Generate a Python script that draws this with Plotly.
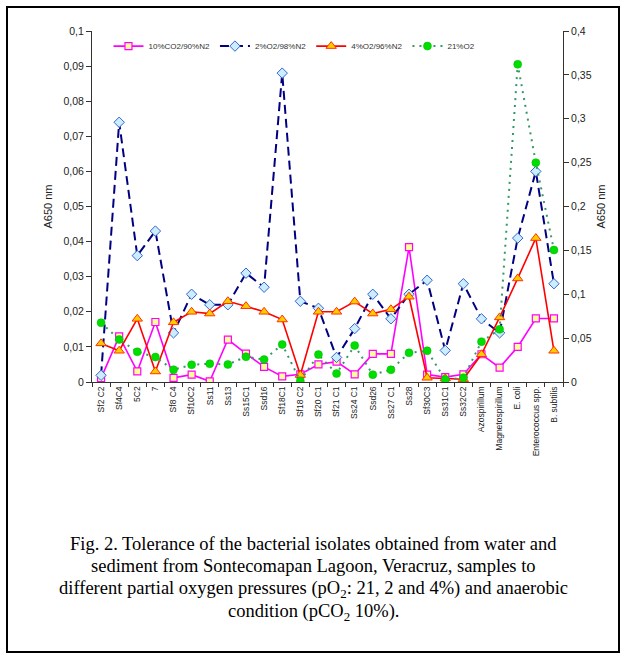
import plotly.graph_objects as go

categories = ["Sf2 C2", "Sf4C4", "5C2", "7", "Sf8 C4", "Sf10C2", "Ss11", "Ss13",
              "Ss15C1", "Ssd16", "Sf18C1", "Sf18 C2", "Sf20 C1", "Sf21 C1", "Ss24 C1",
              "Ssd26", "Ss27 C1", "Ss28", "Sf30C3", "Ss31C1", "Ss32C2", "Azospirillum",
              "Magnetospirillum", "E. coli", "Enterococcus spp.", "B. subtilis"]

co2_10 = [0.0011, 0.0130, 0.0030, 0.0171, 0.0012, 0.0021, 0.0002, 0.0121, 0.0081, 0.0043,
          0.0016, 0.0022, 0.0050, 0.0058, 0.0022, 0.0080, 0.0080, 0.0384, 0.0021, 0.0014,
          0.0022, 0.0079, 0.0041, 0.0100, 0.0181, 0.0181]

o2_2 = [0.0019, 0.0740, 0.0360, 0.0430, 0.0140, 0.0250, 0.0220, 0.0220, 0.0310, 0.0270,
        0.0880, 0.0230, 0.0210, 0.0070, 0.0152, 0.0250, 0.0180, 0.0250, 0.0290, 0.0090,
        0.0280, 0.0180, 0.0140, 0.0410, 0.0600, 0.0280]

o2_4 = [0.0110, 0.0089, 0.0180, 0.0030, 0.0170, 0.0200, 0.0195, 0.0230, 0.0216, 0.0200,
        0.0178, 0.0020, 0.0200, 0.0200, 0.0229, 0.0195, 0.0207, 0.0243, 0.0012, 0.0010,
        0.0008, 0.0079, 0.0184, 0.0295, 0.0410, 0.0089]

# 21% O2 read on the right axis (0 - 0.4)
o2_21 = [0.0676, 0.0484, 0.0344, 0.0284, 0.0140, 0.0196, 0.0208, 0.0200, 0.0288, 0.0256,
         0.0428, 0.0012, 0.0312, 0.0096, 0.0416, 0.0084, 0.0140, 0.0332, 0.0356, 0.0028,
         0.0048, 0.0460, 0.0600, 0.3620, 0.2500, 0.1504]

caption_lines = [
    "Fig. 2. Tolerance of the bacterial isolates obtained from water and",
    "sediment from Sontecomapan Lagoon, Veracruz, samples to",
    "different partial oxygen pressures (pO<sub>2</sub>: 21, 2 and 4%) and anaerobic",
    "condition (pCO<sub>2</sub> 10%).",
]

FONT = "Liberation Sans"

fig = go.Figure()
fig.add_trace(go.Scatter(
    x=categories, y=co2_10, name="10%CO2/90%N2", mode="lines+markers",
    line=dict(color="#FF00FF", width=1.6),
    marker=dict(symbol="square", size=7, color="#FFFF99", line=dict(color="#FF00FF", width=1.2))))
fig.add_trace(go.Scatter(
    x=categories, y=o2_2, name="2%O2/98%N2", mode="lines+markers",
    line=dict(color="#000080", width=2, dash="9px,5px"),
    marker=dict(symbol="diamond", size=8, color="#CCECFF", line=dict(color="#3366CC", width=1))))
fig.add_trace(go.Scatter(
    x=categories, y=o2_4, name="4%O2/96%N2", mode="lines+markers",
    line=dict(color="#FF0000", width=1.6),
    marker=dict(symbol="triangle-up", size=9, color="#FFCC00", line=dict(color="#FF3300", width=1))))
fig.add_trace(go.Scatter(
    x=categories, y=o2_21, name="21%O2", mode="lines+markers", yaxis="y2",
    line=dict(color="#339966", width=2, dash="2px,5px"),
    marker=dict(symbol="circle", size=8, color="#00DD00", line=dict(color="#00BB00", width=0.5))))

fig.update_layout(
    width=624, height=656,
    margin=dict(l=92, r=61, t=31, b=274),
    paper_bgcolor="white", plot_bgcolor="white",
    separators=",.",
    font=dict(family=FONT, color="#222222"),
    showlegend=True,
    legend=dict(orientation="h", x=0.035, y=0.957, xanchor="left", yanchor="middle",
                font=dict(size=8, family=FONT, color="#333333"),
                bgcolor="rgba(0,0,0,0)", itemwidth=30, tracegroupgap=0),
    xaxis=dict(type="category", range=[-0.5, 25.5], tickangle=-90,
               showline=True, linecolor="#333333", linewidth=1,
               ticks="outside", tickson="boundaries", ticklen=4, tickcolor="#333333",
               tickfont=dict(size=8.5, family=FONT, color="#222222"),
               showgrid=False, zeroline=False),
    yaxis=dict(range=[0, 0.1], dtick=0.01, tick0=0,
               showline=True, linecolor="#333333", linewidth=1,
               ticks="outside", ticklen=5, tickcolor="#333333",
               tickfont=dict(size=10.5, family=FONT, color="#222222"),
               title=dict(text="A650 nm", font=dict(size=11, family=FONT, color="#222222"), standoff=8),
               showgrid=False, zeroline=False),
    yaxis2=dict(range=[0, 0.4], dtick=0.05, tick0=0, overlaying="y", side="right",
                showline=True, linecolor="#333333", linewidth=1,
                ticks="outside", ticklen=5, tickcolor="#333333",
                tickfont=dict(size=10.5, family=FONT, color="#222222"),
                title=dict(text="A650 nm", font=dict(size=11, family=FONT, color="#222222"), standoff=6),
                showgrid=False, zeroline=False),
)

W, H = 471.0, 351.0
def px(x):
    return (x - 92) / W
def py(y):
    return (382 - y) / H

fig.add_shape(type="rect", xref="paper", yref="paper",
              x0=px(7), x1=px(619), y0=py(652), y1=py(7),
              line=dict(color="black", width=2), fillcolor="rgba(0,0,0,0)", layer="above")

line_y = [544, 566, 589, 612]
for txt, yy in zip(caption_lines, line_y):
    fig.add_annotation(text=txt, xref="paper", yref="paper", x=px(313), y=py(yy),
                       xanchor="center", yanchor="middle", showarrow=False, align="center",
                       font=dict(family="Liberation Serif", size=18.5, color="black"))

fig.write_html("out.html")
